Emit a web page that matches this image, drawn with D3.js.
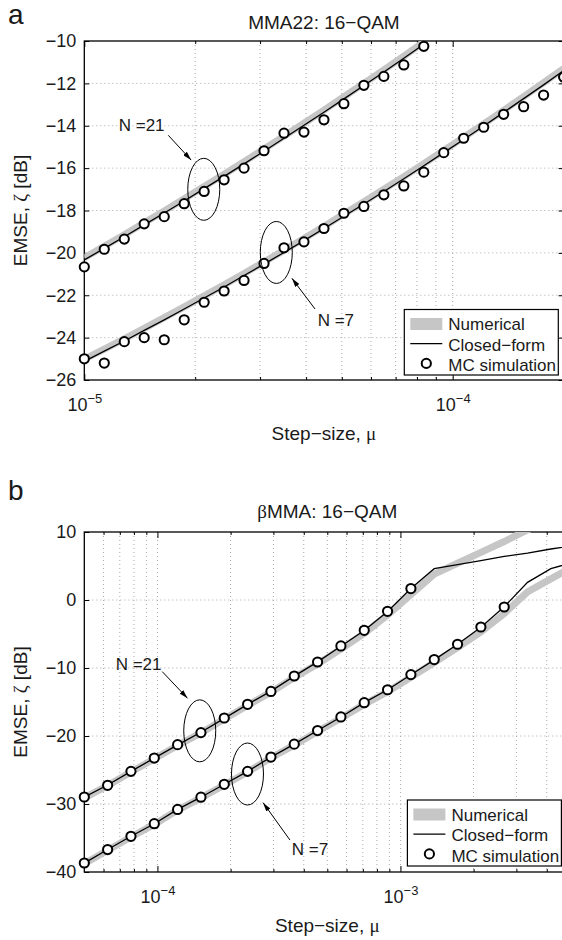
<!DOCTYPE html>
<html>
<head>
<meta charset="utf-8">
<script src="https://cdn.jsdelivr.net/npm/d3@7"></script>
<style>
body { margin: 0; background: #fff; }
svg text { font-family: "Liberation Sans", Arial, sans-serif; fill: #1a1a1a; }
.grid { stroke: #aaa; stroke-width: 1; stroke-dasharray: 1,3; }
</style>
</head>
<body>
<div id="run"></div>
<script>
var width = 562,
    height = 940;

// ---- panel a : MMA22, 16-QAM ----
var muA = [1.000e-5, 1.133e-5, 1.284e-5, 1.454e-5, 1.648e-5, 1.867e-5, 2.115e-5, 2.396e-5, 2.714e-5,
           3.075e-5, 3.484e-5, 3.947e-5, 4.472e-5, 5.066e-5, 5.740e-5, 6.503e-5, 7.367e-5, 8.347e-5,
           9.456e-5, 1.071e-4, 1.214e-4, 1.375e-4, 1.558e-4, 1.765e-4, 2.000e-4];
var a21Num = [-20.23, -19.69, -19.14, -18.58, -18.02, -17.45, -16.87, -16.29, -15.70, -15.10, -14.49,
              -13.88, -13.26, -12.63, -12.00, -11.36, -10.71, -10.05];
var a21Cf  = [-20.33, -19.79, -19.24, -18.68, -18.12, -17.55, -16.97, -16.39, -15.80, -15.20, -14.59,
              -13.98, -13.36, -12.73, -12.10, -11.46, -10.81, -10.15];
var a21Mc  = [-20.66, -19.83, -19.35, -18.63, -18.29, -17.68, -17.10, -16.55, -16.00, -15.18, -14.35,
              -14.30, -13.72, -12.96, -12.09, -11.67, -11.13, -10.25];
var a7Num  = [-25.02, -24.54, -24.06, -23.56, -23.06, -22.55, -22.03, -21.51, -20.97, -20.43, -19.88,
              -19.32, -18.75, -18.17, -17.59, -17.00, -16.40, -15.79, -15.17, -14.55, -13.91, -13.27,
              -12.62, -11.97, -11.30];
var a7Cf   = [-25.12, -24.64, -24.16, -23.66, -23.16, -22.65, -22.13, -21.61, -21.07, -20.53, -19.98,
              -19.42, -18.85, -18.27, -17.69, -17.10, -16.50, -15.89, -15.27, -14.65, -14.01, -13.37,
              -12.72, -12.07, -11.40];
var a7Mc   = [-25.00, -25.20, -24.19, -24.00, -24.10, -23.16, -22.33, -21.80, -21.30, -20.50, -19.76,
              -19.48, -18.85, -18.13, -17.81, -17.26, -16.84, -16.19, -15.27, -14.59, -14.07, -13.46,
              -13.10, -12.55, -11.70];
var yTicksA  = [-26, -24, -22, -20, -18, -16, -14, -12, -10];
var xMajorA  = [1e-5, 1e-4];
var xMinorA  = [2e-5, 3e-5, 4e-5, 5e-5, 6e-5, 7e-5, 8e-5, 9e-5, 2e-4];

// ---- panel b : betaMMA, 16-QAM ----
var muB = [5.000e-5, 6.237e-5, 7.780e-5, 9.704e-5, 1.2105e-4, 1.510e-4, 1.8835e-4, 2.3495e-4,
           2.9307e-4, 3.6557e-4, 4.5601e-4, 5.6882e-4, 7.0954e-4, 8.8507e-4, 1.104e-3, 1.3771e-3,
           1.7178e-3, 2.1428e-3, 2.6729e-3, 3.3341e-3, 4.1589e-3, 5.1878e-3];
var b21Num = [-29.1, -27.3, -25.3, -23.35, -21.4, -19.55, -17.5, -15.5, -13.55, -11.4, -9.4, -7.2,
              -4.9, -2.2, 0.8, 3.8, 5.4, 7.0, 8.6, 10.3, 11.9];
var b21Cf  = [-29.0, -27.2, -25.2, -23.25, -21.3, -19.45, -17.4, -15.35, -13.4, -11.2, -9.1, -6.8,
              -4.5, -1.7, 1.7, 4.6, 5.2, 5.8, 6.4, 6.9, 7.5, 8.0];
var b21Mc  = [-28.97, -27.25, -25.20, -23.24, -21.27, -19.50, -17.35, -15.34, -13.45, -11.18, -9.12,
              -6.76, -4.46, -1.66, 1.68];
var b7Num  = [-38.8, -36.8, -34.85, -33.0, -30.9, -29.1, -27.2, -25.3, -23.2, -21.35, -19.35, -17.4,
              -15.35, -13.5, -11.35, -9.2, -7.0, -4.7, -2.0, 1.2, 3.1, 5.0];
var b7Cf   = [-38.7, -36.7, -34.75, -32.9, -30.8, -29.0, -27.1, -25.2, -23.1, -21.2, -19.2, -17.2,
              -15.1, -13.2, -11.0, -8.8, -6.5, -4.0, -1.0, 2.6, 4.6, 5.6];
var b7Mc   = [-38.68, -36.70, -34.75, -32.90, -30.80, -29.00, -27.10, -25.20, -23.10, -21.20, -19.20,
              -17.20, -15.10, -13.20, -10.97, -8.76, -6.51, -3.97, -1.03];
var yTicksB = [-40, -30, -20, -10, 0, 10];
var xMajorB = [1e-4, 1e-3];
var xMinorB = [6e-5, 7e-5, 8e-5, 9e-5, 2e-4, 3e-4, 4e-4, 5e-4, 6e-4, 7e-4, 8e-4, 9e-4,
               2e-3, 3e-3, 4e-3, 5e-3];

var legendLabels = ["Numerical", "Closed\u2212form", "MC simulation"];

var panels = [
  {id: "a", letter: "a", letterY: 24, title: [["", "MMA22: 16\u2212QAM"]], titleY: 29,
   left: 84.3, right: 563.6, top: 41, bottom: 380,
   xDomain: [1e-5, 2e-4], yDomain: [-26, -10], xMajor: xMajorA, xMinor: xMinorA, yTicks: yTicksA,
   mu: muA,
   series: [{num: a21Num, cf: a21Cf, mc: a21Mc}, {num: a7Num, cf: a7Cf, mc: a7Mc}],
   notes: [{label: "N =21", tx: 1.24e-5, ty: -14.25, ex: 2.11e-5, ey: -17.0,
            ax1: 1.69e-5, ay1: -14.45, ax2: 1.95e-5, ay2: -15.62},
           {label: "N =7", tx: 4.30e-5, ty: -23.45, ex: 3.32e-5, ey: -19.98,
            ax1: 4.23e-5, ay1: -22.65, ax2: 3.66e-5, ay2: -21.2}],
   legend: {x: 404.3, y: 309.5, w: 154, h: 65.5}},
  {id: "b", letter: "b", letterY: 500, title: [["serif", "\u03b2"], ["", "MMA: 16\u2212QAM"]], titleY: 518,
   left: 84.3, right: 570.3, top: 532, bottom: 872,
   xDomain: [5e-5, 5e-3], yDomain: [-40, 10], xMajor: xMajorB, xMinor: xMinorB, yTicks: yTicksB,
   mu: muB,
   series: [{num: b21Num, cf: b21Cf, mc: b21Mc}, {num: b7Num, cf: b7Cf, mc: b7Mc}],
   notes: [{label: "N =21", tx: 6.73e-5, ty: -10.3, ex: 1.493e-4, ey: -19.24,
            ax1: 1.047e-4, ay1: -10.54, ax2: 1.33e-4, ay2: -14.46},
           {label: "N =7", tx: 3.57e-4, ty: -37.5, ex: 2.347e-4, ey: -25.59,
            ax1: 3.51e-4, ay1: -35.3, ax2: 2.72e-4, ay2: -29.8}],
   legend: {x: 407.4, y: 800, w: 154, h: 66}}
];

var svg = d3.select("#run").append("svg")
    .attr("width", width)
    .attr("height", height)
    .style("background", "#fff")
    .style("display", "block");

var defs = svg.append("defs");
defs.append("marker")
    .attr("id", "arrow")
    .attr("viewBox", "0 0 10 10")
    .attr("refX", 10).attr("refY", 5)
    .attr("markerWidth", 9).attr("markerHeight", 5)
    .attr("markerUnits", "userSpaceOnUse")
    .attr("preserveAspectRatio", "none")
    .attr("orient", "auto")
  .append("path")
    .attr("d", "M0,0L10,5L0,10Z")
    .attr("fill", "#000");

function styleAxis(g) {
    g.select(".domain").remove();
    g.selectAll(".tick line").attr("stroke", "#000").attr("stroke-width", 1);
    g.attr("font-family", null).attr("font-size", null);
}

function addParts(text, parts) {
    parts.forEach(function(p) {
        var t = text.append("tspan").text(p[1]);
        if (p[0] == "serif") t.style("font-family", "'Liberation Serif', 'Times New Roman', serif");
    });
}

panels.forEach(function(p) {
    var g = svg.append("g").attr("id", "panel-" + p.id);
    var x = d3.scaleLog().domain(p.xDomain).range([p.left, p.right]);
    var y = d3.scaleLinear().domain(p.yDomain).range([p.bottom, p.top]);

    defs.append("clipPath").attr("id", "clip-" + p.id)
      .append("rect")
        .attr("x", p.left).attr("y", p.top)
        .attr("width", p.right - p.left).attr("height", p.bottom - p.top);

    // dotted grid
    var xGrid = p.xMajor.concat(p.xMinor).filter(function(d) { return d > p.xDomain[0]; });
    g.append("g").selectAll("line").data(xGrid).enter().append("line")
        .attr("class", "grid")
        .attr("x1", function(d) { return x(d); }).attr("x2", function(d) { return x(d); })
        .attr("y1", p.top).attr("y2", p.bottom);
    g.append("g").selectAll("line").data(p.yTicks.slice(1, -1)).enter().append("line")
        .attr("class", "grid")
        .attr("x1", p.left).attr("x2", p.right)
        .attr("y1", function(d) { return y(d); }).attr("y2", function(d) { return y(d); });

    // axes: ticks point inward on all four sides
    g.append("g").attr("transform", "translate(" + p.left + ",0)")
        .call(d3.axisLeft(y).tickValues(p.yTicks).tickSizeInner(-5).tickSizeOuter(0).tickPadding(8))
        .call(styleAxis)
        .selectAll("text").style("font-size", "18px");
    g.append("g").attr("transform", "translate(" + p.right + ",0)")
        .call(d3.axisRight(y).tickValues(p.yTicks).tickSize(-5).tickFormat(""))
        .call(styleAxis);

    var xb = g.append("g").attr("transform", "translate(0," + p.bottom + ")")
        .call(d3.axisBottom(x).tickValues(p.xMajor).tickSizeInner(-6).tickSizeOuter(0).tickPadding(18))
        .call(styleAxis);
    xb.selectAll(".tick text").each(function(d) {
        var t = d3.select(this).text(null).style("font-size", "18px");
        t.append("tspan").text("10");
        t.append("tspan").attr("dy", "-8").style("font-size", "13px")
            .text("\u2212" + Math.abs(Math.round(Math.log10(d))));
    });
    g.append("g").attr("transform", "translate(0," + p.bottom + ")")
        .call(d3.axisBottom(x).tickValues(p.xMinor).tickSize(-3).tickFormat(""))
        .call(styleAxis);
    g.append("g").attr("transform", "translate(0," + p.top + ")")
        .call(d3.axisTop(x).tickValues(p.xMajor).tickSize(-6).tickFormat(""))
        .call(styleAxis);
    g.append("g").attr("transform", "translate(0," + p.top + ")")
        .call(d3.axisTop(x).tickValues(p.xMinor).tickSize(-3).tickFormat(""))
        .call(styleAxis);

    g.append("rect")
        .attr("x", p.left).attr("y", p.top)
        .attr("width", p.right - p.left).attr("height", p.bottom - p.top)
        .attr("fill", "none").attr("stroke", "#000").attr("stroke-width", 1.3);

    var line = d3.line()
        .x(function(d, i) { return x(p.mu[i]); })
        .y(function(d) { return y(d); });

    var plot = g.append("g");
    p.series.forEach(function(s) {
        plot.append("path").datum(s.num)
            .attr("clip-path", "url(#clip-" + p.id + ")")
            .attr("d", line)
            .attr("fill", "none").attr("stroke", "#c6c6c6").attr("stroke-width", 7);
    });
    p.series.forEach(function(s) {
        plot.append("path").datum(s.cf)
            .attr("clip-path", "url(#clip-" + p.id + ")")
            .attr("d", line)
            .attr("fill", "none").attr("stroke", "#000").attr("stroke-width", 1.3);
    });
    p.series.forEach(function(s) {
        plot.append("g").selectAll("circle").data(s.mc).enter().append("circle")
            .attr("cx", function(d, i) { return x(p.mu[i]); })
            .attr("cy", function(d) { return y(d); })
            .attr("r", 4.6)
            .attr("fill", "#fff").attr("stroke", "#000").attr("stroke-width", 2);
    });

    // N annotations
    p.notes.forEach(function(n) {
        g.append("ellipse")
            .attr("cx", x(n.ex)).attr("cy", y(n.ey))
            .attr("rx", 16).attr("ry", 31)
            .attr("fill", "none").attr("stroke", "#000").attr("stroke-width", 1);
        g.append("line")
            .attr("x1", x(n.ax1)).attr("y1", y(n.ay1))
            .attr("x2", x(n.ax2)).attr("y2", y(n.ay2))
            .attr("stroke", "#000").attr("stroke-width", 1)
            .attr("marker-end", "url(#arrow)");
        g.append("text")
            .attr("x", x(n.tx)).attr("y", y(n.ty))
            .style("font-size", "17px")
            .text(n.label);
    });

    // legend
    var lg = g.append("g").attr("transform", "translate(" + p.legend.x + "," + p.legend.y + ")");
    lg.append("rect").attr("width", p.legend.w).attr("height", p.legend.h)
        .attr("fill", "#fff").attr("stroke", "#000").attr("stroke-width", 1.2);
    var rows = lg.selectAll("g.row").data(legendLabels).enter().append("g")
        .attr("class", "row")
        .attr("transform", function(d, i) { return "translate(0," + (14.5 + i * 20.7) + ")"; });
    rows.filter(function(d, i) { return i == 0; }).append("rect")
        .attr("x", 6).attr("y", -6).attr("width", 32).attr("height", 12).attr("fill", "#c6c6c6");
    rows.filter(function(d, i) { return i == 1; }).append("line")
        .attr("x1", 6).attr("x2", 38).attr("y1", -1).attr("y2", -1)
        .attr("stroke", "#000").attr("stroke-width", 1.3);
    rows.filter(function(d, i) { return i == 2; }).append("circle")
        .attr("cx", 22).attr("cy", -2).attr("r", 4.6)
        .attr("fill", "#fff").attr("stroke", "#000").attr("stroke-width", 2);
    rows.append("text").attr("x", 44).attr("y", 6)
        .style("font-size", "17px")
        .text(function(d) { return d; });

    // titles and labels
    var cx = (p.left + p.right) / 2;
    addParts(g.append("text").attr("x", cx).attr("y", p.titleY)
        .attr("text-anchor", "middle").style("font-size", "19px"), p.title);
    addParts(g.append("text").attr("x", cx).attr("y", p.bottom + 60)
        .attr("text-anchor", "middle").style("font-size", "19px"),
        [["", "Step\u2212size, "], ["serif", "\u03bc"]]);
    addParts(g.append("text")
        .attr("transform", "translate(27," + ((p.top + p.bottom) / 2) + ") rotate(-90)")
        .attr("text-anchor", "middle").style("font-size", "19px"),
        [["", "EMSE, "], ["serif", "\u03b6"], ["", " [dB]"]]);
    g.append("text").attr("x", 8).attr("y", p.letterY)
        .style("font-size", "28px")
        .text(p.letter);
});
</script>
</body>
</html>
